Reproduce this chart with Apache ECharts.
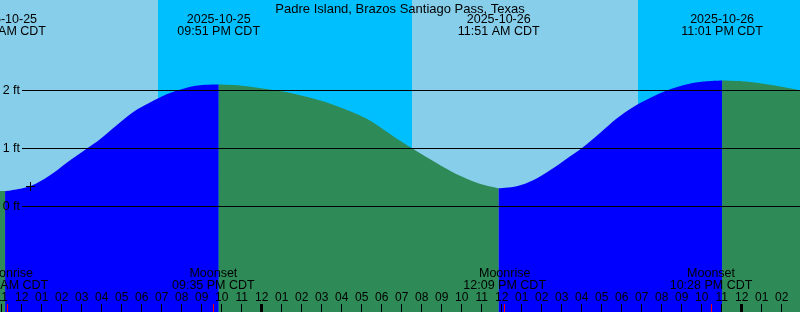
<!DOCTYPE html>
<html><head><meta charset="utf-8">
<script src="https://cdn.jsdelivr.net/npm/echarts@6/dist/echarts.min.js"></script>
<style>html,body{margin:0;padding:0;background:#fff}#c{width:800px;height:312px}</style>
</head><body><div id="c"></div>
<script>
// All times are hours since 2025-10-25 00:00 CDT
const chartTitle = 'Padre Island, Brazos Santiago Pass, Texas';
const tideTimes   = [10.915, 11.17, 12.415, 13.415, 14.25, 15.28, 15.915, 16.75, 17.58, 18.415, 19.25, 20.08, 20.915, 21.85, 23.0, 24.75, 25.915, 27.57, 29.25, 30.915, 32.57, 33.415, 34.25, 35.07, 35.85, 36.75, 37.57, 38.415, 39.25, 40.0, 40.915, 41.75, 42.58, 43.415, 44.25, 45.07, 45.915, 47.02, 48.415, 50.07, 50.915];
const tideHeights = [0.262, 0.26, 0.345, 0.534, 0.75, 1.0, 1.155, 1.397, 1.626, 1.788, 1.931, 2.029, 2.086, 2.10, 2.08, 1.995, 1.914, 1.753, 1.509, 1.13, 0.78, 0.612, 0.474, 0.37, 0.31, 0.345, 0.448, 0.621, 0.822, 1.0, 1.262, 1.512, 1.712, 1.867, 1.995, 2.086, 2.143, 2.167, 2.143, 2.057, 2.0];
const extremeTimes = [11.17, 21.85, 35.85, 47.02];
const extremeKinds = ['low', 'high', 'low', 'high'];
const extremeDates = ['2025-10-25', '2025-10-25', '2025-10-26', '2025-10-26'];
const extremeClock = ['11:10 AM CDT', '09:51 PM CDT', '11:51 AM CDT', '11:01 PM CDT'];
const moonTimes = [11.283, 21.583, 36.15, 46.467];
const moonNames = ['Moonrise', 'Moonset', 'Moonrise', 'Moonset'];
const moonClock = ['11:17 AM CDT', '09:35 PM CDT', '12:09 PM CDT', '10:28 PM CDT'];
const sunTimes = [18.815, 31.515, 42.815]; // sunset, sunrise, sunset
const hourTicks = [11, 12, 13, 14, 15, 16, 17, 18, 19, 20, 21, 22, 23, 24, 25, 26, 27, 28, 29, 30, 31, 32, 33, 34, 35, 36, 37, 38, 39, 40, 41, 42, 43, 44, 45, 46, 47, 48, 49, 50, 51];
const midnightTicks = [24, 48];
const depthLevels = [0, 1, 2];
const depthLabels = ['0 ft', '1 ft', '2 ft'];
const nowTime = 12.415, nowHeight = 0.345;

const XMIN = 10.915, XMAX = 50.915;
const YMIN = -1.822, YMAX = 3.557;
const DAY = '#87CEEB', NIGHT = '#00BFFF', RISE = '#0000FF', FALL = '#2E8B57';
const FAMILY = '"Liberation Sans", Arial, sans-serif';
const FONT = '12.5px ' + FAMILY;

function fmtHour(v) {
  let h = Math.round(v) % 12; if (h === 0) h = 12;
  return (h < 10 ? '0' : '') + h;
}

// tide segments split at extremes
const bounds = [XMIN].concat(extremeTimes, [XMAX]);
const tideSeries = [];
for (let i = 0; i < bounds.length - 1; i++) {
  const a = bounds[i], b = bounds[i + 1];
  const pts = [];
  tideTimes.forEach((t, k) => { if (t >= a - 1e-9 && t <= b + 1e-9) pts.push([t, tideHeights[k]]); });
  let rising;
  if (i < extremeKinds.length) rising = extremeKinds[i] === 'high';
  else rising = extremeKinds[extremeKinds.length - 1] === 'low';
  tideSeries.push({
    type: 'line', xAxisIndex: 0, data: pts, smooth: 0.35, symbol: 'none', z: 2,
    lineStyle: { width: 0 }, areaStyle: { color: rising ? RISE : FALL, opacity: 1, origin: 'start' },
    silent: true, animation: false
  });
}

// day/night bands
const skyEdges = [XMIN].concat(sunTimes, [XMAX]);
const skyAreas = [];
for (let i = 0; i < skyEdges.length - 1; i++) {
  skyAreas.push([{ xAxis: skyEdges[i], itemStyle: { color: i % 2 === 0 ? DAY : NIGHT, opacity: 1 } }, { xAxis: skyEdges[i + 1] }]);
}

function tickAxis(values, color, width, withLabels, z) {
  return {
    type: 'value', min: XMIN, max: XMAX, z: z, position: 'bottom',
    axisLine: { show: false, onZero: false }, splitLine: { show: false },
    axisTick: { show: true, inside: true, length: 8, customValues: values, lineStyle: { color: color, width: width } },
    axisLabel: withLabels
      ? { show: true, inside: true, margin: 8, customValues: values, formatter: fmtHour, color: '#000', fontSize: 12, fontFamily: FAMILY, showMinLabel: true, showMaxLabel: true }
      : { show: false }
  };
}

const chart = echarts.init(document.getElementById('c'), null, { renderer: 'canvas' });
chart.setOption({
  animation: false,
  backgroundColor: '#fff',
  title: { text: chartTitle, left: 'center', top: -2, textStyle: { fontSize: 13, fontWeight: 'normal', color: '#000', fontFamily: FAMILY } },
  grid: { left: 0, right: 0, top: 0, bottom: 0, containLabel: false, outerBoundsMode: 'none' },
  xAxis: [
    tickAxis(hourTicks, '#000', 1, true, 10),
    tickAxis(midnightTicks, '#000', 3, false, 11),
    tickAxis(moonTimes, '#FF0000', 1, false, 11)
  ],
  yAxis: { type: 'value', min: YMIN, max: YMAX, show: false },
  series: [
    { type: 'line', data: [[XMIN, 0]], symbol: 'none', lineStyle: { opacity: 0 }, z: 1, silent: true,
      markArea: { silent: true, data: skyAreas } }
  ].concat(tideSeries, [
    { type: 'custom', z: 5, silent: true, data: depthLevels.map((v, i) => [XMAX, v, i]),
      renderItem: function (params, api) {
        const p = api.coord([api.value(0), api.value(1)]);
        const cs = params.coordSys;
        const y = Math.floor(p[1]) + 0.5;
        return { type: 'group', children: [
          { type: 'line', shape: { x1: cs.x + 22, y1: y, x2: cs.x + cs.width, y2: y }, style: { stroke: '#000', lineWidth: 1 } },
          { type: 'text', x: cs.x + 20, y: y, style: { text: depthLabels[api.value(2)], font: FONT, fill: '#000', align: 'right', verticalAlign: 'middle' } }
        ] };
      } },
    { type: 'custom', z: 6, silent: true, data: extremeTimes.map((t, i) => [t, 0, i]),
      renderItem: function (params, api) {
        const p = api.coord([api.value(0), 0]);
        const i = api.value(2);
        return { type: 'group', children: [
          { type: 'text', x: p[0], y: 19.5, style: { text: extremeDates[i], font: FONT, fill: '#000', align: 'center', verticalAlign: 'middle' } },
          { type: 'text', x: p[0], y: 32, style: { text: extremeClock[i], font: FONT, fill: '#000', align: 'center', verticalAlign: 'middle' } }
        ] };
      } },
    { type: 'custom', z: 6, silent: true, data: moonTimes.map((t, i) => [t, 0, i]),
      renderItem: function (params, api) {
        const p = api.coord([api.value(0), 0]);
        const i = api.value(2);
        return { type: 'group', children: [
          { type: 'text', x: p[0], y: 274, style: { text: moonNames[i], font: FONT, fill: '#000', align: 'center', verticalAlign: 'middle' } },
          { type: 'text', x: p[0], y: 286, style: { text: moonClock[i], font: FONT, fill: '#000', align: 'center', verticalAlign: 'middle' } }
        ] };
      } },
    { type: 'custom', z: 6, silent: true, data: [[nowTime, nowHeight]],
      renderItem: function (params, api) {
        const p = api.coord([api.value(0), api.value(1)]);
        const x = Math.round(p[0]) + 0.5, y = Math.round(p[1]) + 0.5;
        return { type: 'group', children: [
          { type: 'line', shape: { x1: x - 4.5, y1: y, x2: x + 4.5, y2: y }, style: { stroke: '#000', lineWidth: 1 } },
          { type: 'line', shape: { x1: x, y1: y - 4.5, x2: x, y2: y + 4.5 }, style: { stroke: '#000', lineWidth: 1 } }
        ] };
      } }
  ])
});
</script>
</body></html>
